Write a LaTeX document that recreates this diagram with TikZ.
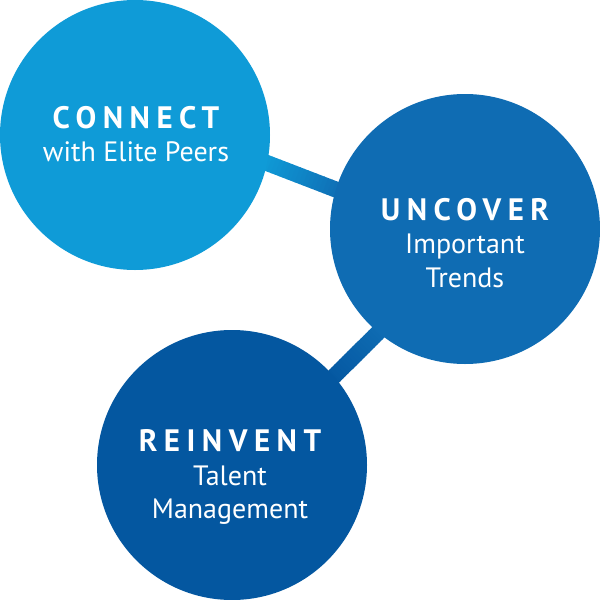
\documentclass[tikz,border=0pt]{standalone}
\usepackage{fontspec}
\setmainfont{PT Sans}
\newfontfamily\headfont[LetterSpace=21]{PT Sans Bold}
\usetikzlibrary{positioning,calc,backgrounds}
\definecolor{connectblue}{HTML}{0F9BD7}
\definecolor{uncoverblue}{HTML}{0F6CB3}
\definecolor{reinventblue}{HTML}{0457A0}

\begin{document}
\begin{tikzpicture}[x=1pt,y=-1pt,
    bubble/.style={circle, inner sep=0pt, minimum size=270pt},
    caption/.style={text=white, align=center, inner sep=0pt,
        font=\fontsize{28}{33.5}\selectfont}]
    \useasboundingbox (0,0) rectangle (600,600);
    \node[bubble, fill=connectblue] (c1) at (135,135) {};
    \node[bubble, fill=uncoverblue] (c2) at (465,229) {};
    \node[bubble, fill=reinventblue] (c3) at (232,465) {};
    \node[caption] (t1) at (136,134) {{\headfont\fontsize{31}{33.5}\selectfont CONNECT}\\with Elite Peers};
    \node[caption] (t2) at (465,243) {{\headfont\fontsize{31}{33.5}\selectfont UNCOVER}\\Important\\Trends};
    \node[caption] (t3) at (230,477) {{\headfont\fontsize{31}{33.5}\selectfont REINVENT}\\Talent\\Management};
    % links behind the bubbles
    \coordinate (a1) at ($(c1.-12)!-6pt!(c2.163)$);
    \coordinate (b1) at ($(c2.163)!-6pt!(c1.-12)$);
    \coordinate (a2) at ($(c2.230)!-6pt!(c3.41)$);
    \coordinate (b2) at ($(c3.41)!-6pt!(c2.230)$);
    \begin{scope}[on background layer]
        \foreach \i in {0,...,19} {
            \pgfmathsetmacro{\p}{100-5*\i}
            \draw[line width=16pt, connectblue!\p!uncoverblue]
                ($(a1)!\i/20!(b1)$) -- ($(a1)!\i/20+0.06!(b1)$);
            \draw[line width=16pt, uncoverblue!\p!reinventblue]
                ($(a2)!\i/20!(b2)$) -- ($(a2)!\i/20+0.06!(b2)$);
        }
    \end{scope}
\end{tikzpicture}
\end{document}
